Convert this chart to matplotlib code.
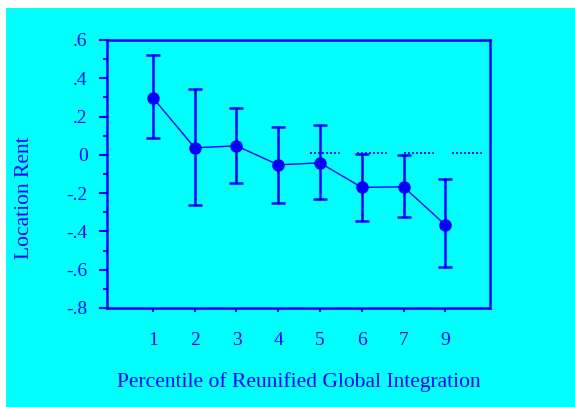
import matplotlib
matplotlib.use("Agg")
import matplotlib.pyplot as plt
from matplotlib.patches import Rectangle
from matplotlib.ticker import MultipleLocator

categories = ["1", "2", "3", "4", "5", "6", "7", "9"]
means = [0.298, 0.037, 0.047, -0.052, -0.042, -0.170, -0.167, -0.366]
upper = [0.52, 0.345, 0.245, 0.146, 0.157, 0.005, 0.0, -0.125]
lower = [0.09, -0.26, -0.146, -0.25, -0.23, -0.345, -0.325, -0.585]
ref_level = 0.01
ref_cats = ["5", "6", "7", "9"]
yticks = [0.6, 0.4, 0.2, 0.0, -0.2, -0.4, -0.6, -0.8]
ytick_labels = [".6", ".4", ".2", "0", "-.2", "-.4", "-.6", "-.8"]

W, H = 575, 407
fig = plt.figure(figsize=(W / 100, H / 100), dpi=100)
fig.patch.set_facecolor("white")
fig.patches.append(Rectangle((6 / W, 0), 1 - 6 / W, 1 - 8 / H, transform=fig.transFigure,
                             facecolor="#00FFFF", edgecolor="none", zorder=-10))

blue = "#0000FF"
ax = fig.add_axes([107 / W, 1 - 308 / H, (490 - 107) / W, (308 - 40) / H])
ax.set_facecolor("#00FFFF")

x = list(range(len(categories)))
yerr = [[m - l for m, l in zip(means, lower)], [u - m for m, u in zip(means, upper)]]
ax.errorbar(x, means, yerr=yerr, fmt="o-", color=blue, ecolor=blue, elinewidth=1.8,
            capsize=5, capthick=1.8, markersize=8, linewidth=1.0)

first = categories.index(ref_cats[0])
for k, c in enumerate(ref_cats):
    start = first - 0.24 + k * 1.13
    ax.plot([start, start + 0.72], [ref_level, ref_level], linestyle=(0, (1.2, 1.2)),
            color=blue, linewidth=1.2)

ax.set_xlim(-1.1, 8.07)
ax.set_ylim(-0.8, 0.6)
ax.set_xticks(x)
ax.set_xticklabels(categories)
ax.set_yticks(yticks)
ax.set_yticklabels(ytick_labels)
ax.yaxis.set_minor_locator(MultipleLocator(0.1))

for s in ax.spines.values():
    s.set_color(blue)
    s.set_linewidth(1.8)

ax.tick_params(axis="both", colors=blue, labelcolor=blue, direction="out", width=1.5,
               labelsize=14)
ax.tick_params(axis="x", length=3, pad=14)
ax.tick_params(axis="y", which="major", length=6, pad=8)
ax.tick_params(axis="y", which="minor", length=3, width=1.5, color=blue)
for lab in ax.get_xticklabels() + ax.get_yticklabels():
    lab.set_fontfamily("Liberation Serif")

ax.set_xlabel("Percentile of Reunified Global Integration", color=blue,
              fontfamily="Liberation Serif", fontsize=15.5, labelpad=17)
ax.set_ylabel("Location Rent", color=blue, fontfamily="Liberation Serif",
              fontsize=15.5)
ax.yaxis.set_label_coords(-0.19, 0.41)

fig.savefig("out.png", dpi=100, facecolor=fig.get_facecolor())
